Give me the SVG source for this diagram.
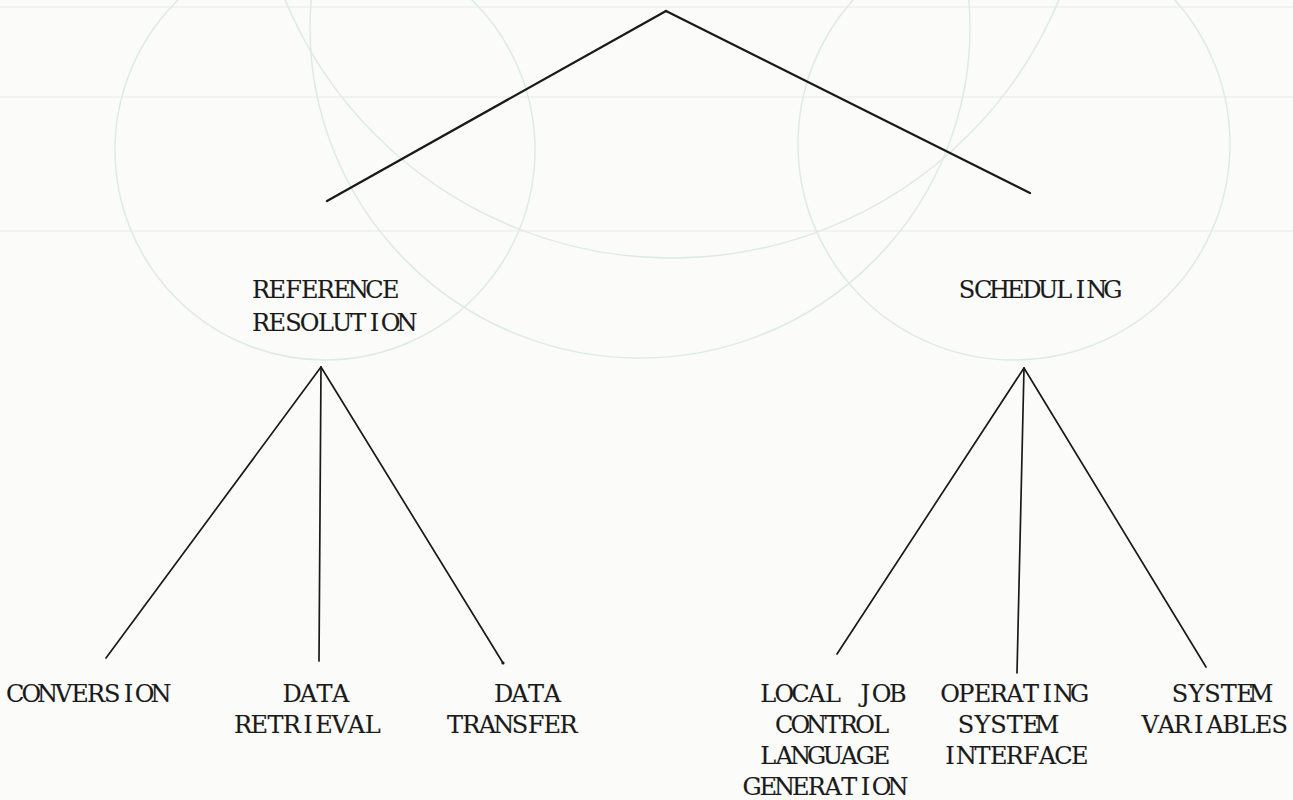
<svg xmlns="http://www.w3.org/2000/svg" width="1293" height="800" viewBox="0 0 1293 800">
  <style>
    /* typewriter labels: one glyph per 16.2px cell, each glyph centred in its cell */
    .lbl { font-family: "DejaVu Serif", "Liberation Serif", serif; font-size: 24px; text-anchor: middle; fill: #1a1a1a; stroke: #1a1a1a; stroke-width: 0.15; }
    .edge { stroke: #1a1a1a; stroke-width: 1.7; stroke-linecap: round; fill: none; }
    .edge.top { stroke-width: 2.3; }
    .ghost { stroke: #dcece5; stroke-width: 1.5; fill: none; }
    .rule { stroke: #eef0ec; stroke-width: 1.5; }
  </style>

  <!-- paper -->
  <rect x="0" y="0" width="1293" height="800" fill="#fbfbf9"/>

  <!-- faint show-through from the facing sheet -->
  <g id="show-through">
    <line class="rule" x1="0" y1="7" x2="1293" y2="7"/>
    <line class="rule" x1="0" y1="97" x2="1293" y2="97"/>
    <line class="rule" x1="0" y1="231" x2="1293" y2="231"/>
    <circle class="ghost" cx="325" cy="150" r="210"/>
    <circle class="ghost" cx="672" cy="-161" r="419"/>
    <circle class="ghost" cx="640" cy="28" r="330"/>
    <circle class="ghost" cx="1014" cy="144" r="216"/>
  </g>

  <!-- tree connectors -->
  <g id="connectors">
    <line class="edge top" x1="666" y1="11" x2="327" y2="201"/>
    <line class="edge top" x1="666" y1="11" x2="1030" y2="193"/>

    <line class="edge" x1="321" y1="367" x2="106" y2="658"/>
    <line class="edge" x1="321" y1="367" x2="319" y2="661"/>
    <line class="edge" x1="321" y1="367" x2="503" y2="663"/>
    <circle cx="503" cy="663" r="1.6" fill="#1a1a1a"/>

    <line class="edge" x1="1024" y1="368" x2="837" y2="654"/>
    <line class="edge" x1="1024" y1="368" x2="1017" y2="673"/>
    <line class="edge" x1="1024" y1="368" x2="1206" y2="667"/>
  </g>

  <g id="node-reference-resolution">
    <text class="lbl" x="261.1 277.3 293.5 309.7 325.9 342.1 358.3 374.5 390.7" y="298">REFERENCE</text>
    <text class="lbl" x="261.1 277.3 293.5 309.7 325.9 342.1 358.3 374.5 390.7 406.9" y="331">RESOLUTION</text>
  </g>

  <g id="node-scheduling">
    <text class="lbl" x="967.1 983.3 999.5 1015.7 1031.9 1048.1 1064.3 1080.5 1096.7 1112.9" y="298">SCHEDULING</text>
  </g>

  <g id="node-conversion">
    <text class="lbl" x="15.1 31.3 47.5 63.7 79.9 96.1 112.3 128.5 144.7 160.9" y="702">CONVERSION</text>
  </g>

  <g id="node-data-retrieval">
    <text class="lbl" x="292.1 308.3 324.5 340.7" y="702">DATA</text>
    <text class="lbl" x="243.1 259.3 275.5 291.7 307.9 324.1 340.3 356.5 372.7" y="733">RETRIEVAL</text>
  </g>

  <g id="node-data-transfer">
    <text class="lbl" x="503.7 519.9 536.1 552.3" y="702">DATA</text>
    <text class="lbl" x="455.1 471.3 487.5 503.7 519.9 536.1 552.3 568.5" y="733">TRANSFER</text>
  </g>

  <g id="node-local-jcl-generation">
    <text class="lbl" x="768.1 784.3 800.5 816.7 832.9 849.1 865.3 881.5 897.7" y="702">LOCAL JOB</text>
    <text class="lbl" x="784.1 800.3 816.5 832.7 848.9 865.1 881.3" y="733">CONTROL</text>
    <text class="lbl" x="768.1 784.3 800.5 816.7 832.9 849.1 865.3 881.5" y="764">LANGUAGE</text>
    <text class="lbl" x="752.1 768.3 784.5 800.7 816.9 833.1 849.3 865.5 881.7 897.9" y="795">GENERATION</text>
  </g>

  <g id="node-os-interface">
    <text class="lbl" x="950.1 966.3 982.5 998.7 1014.9 1031.1 1047.3 1063.5 1079.7" y="702">OPERATING</text>
    <text class="lbl" x="966.1 982.3 998.5 1014.7 1030.9 1047.1" y="733">SYSTEM</text>
    <text class="lbl" x="950.1 966.3 982.5 998.7 1014.9 1031.1 1047.3 1063.5 1079.7" y="764">INTERFACE</text>
  </g>

  <g id="node-system-variables">
    <text class="lbl" x="1180.1 1196.3 1212.5 1228.7 1244.9 1261.1" y="702">SYSTEM</text>
    <text class="lbl" x="1150.1 1166.3 1182.5 1198.7 1214.9 1231.1 1247.3 1263.5 1279.7" y="733">VARIABLES</text>
  </g>
</svg>
